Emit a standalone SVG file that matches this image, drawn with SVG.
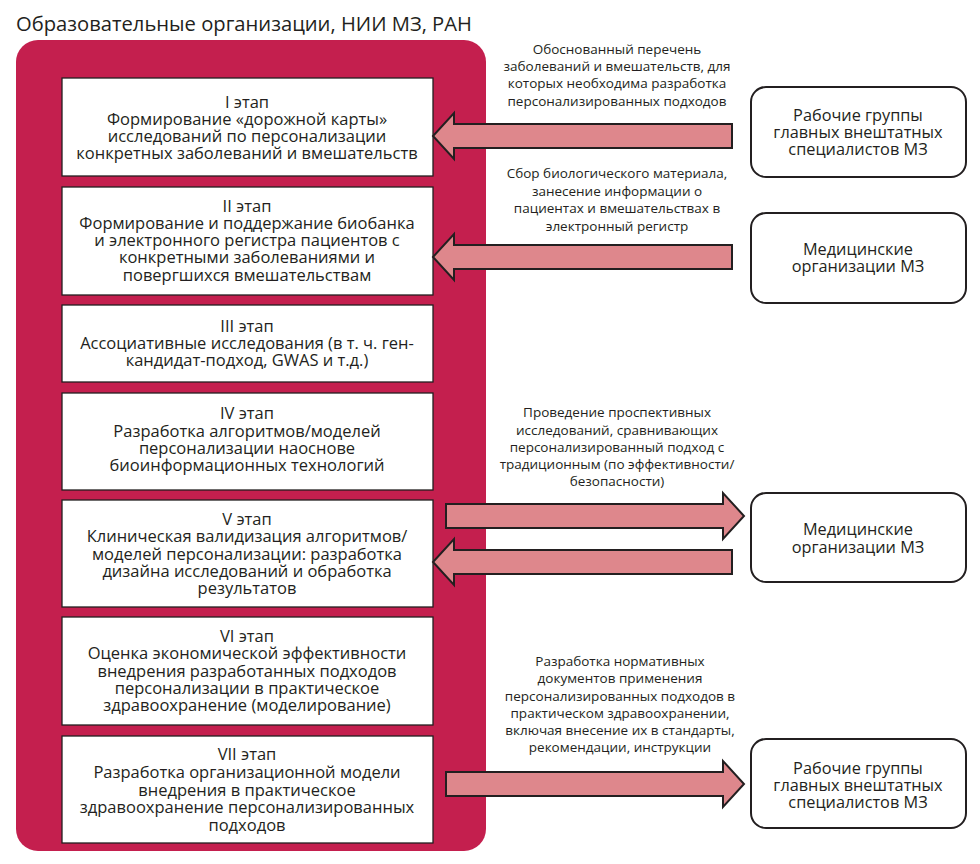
<svg xmlns="http://www.w3.org/2000/svg" width="980" height="864" viewBox="0 0 980 864">
<style>
.t{font-family:"Open Sans","Liberation Sans",Arial,sans-serif;fill:#231f20;text-anchor:middle}
.title{font-family:"Open Sans","Liberation Sans",Arial,sans-serif;fill:#231f20;font-size:20.2px}
.st{font-size:16.5px}
.lb{font-size:13.5px}
.rb{font-size:16.3px}
.stage{fill:#fff;stroke:#231f20;stroke-width:1.3}
.org{fill:#fff;stroke:#231f20;stroke-width:2}
.arr{fill:#de878c;stroke:#231f20;stroke-width:2;stroke-linejoin:miter}
</style>
<rect width="980" height="864" fill="#fff"/>
<text class="title" x="16" y="31">Образовательные организации, НИИ МЗ, РАН</text>
<rect id="container" x="16" y="40" width="470" height="811" rx="22" fill="#c41f4e"/>

<g id="stage1"><rect class="stage" x="62" y="78" width="371" height="98"/>
<text class="t st"><tspan x="247" y="108">I этап</tspan><tspan x="247" y="125">Формирование «дорожной карты»</tspan><tspan x="247" y="142">исследований по персонализации</tspan><tspan x="247" y="159">конкретных заболеваний и вмешательств</tspan></text></g>

<g id="stage2"><rect class="stage" x="62" y="187" width="371" height="108"/>
<text class="t st"><tspan x="247" y="212">II этап</tspan><tspan x="247" y="229">Формирование и поддержание биобанка</tspan><tspan x="247" y="246">и электронного регистра пациентов с</tspan><tspan x="247" y="263">конкретными заболеваниями и</tspan><tspan x="247" y="281">повергшихся вмешательствам</tspan></text></g>

<g id="stage3"><rect class="stage" x="62" y="305" width="371" height="77"/>
<text class="t st"><tspan x="247" y="332">III этап</tspan><tspan x="247" y="349">Ассоциативные исследования (в т. ч. ген-</tspan><tspan x="247" y="366">кандидат-подход, GWAS и т.д.)</tspan></text></g>

<g id="stage4"><rect class="stage" x="62" y="393" width="371" height="97"/>
<text class="t st"><tspan x="247" y="419">IV этап</tspan><tspan x="247" y="437">Разработка алгоритмов/моделей</tspan><tspan x="247" y="454">персонализации наоснове</tspan><tspan x="247" y="471">биоинформационных технологий</tspan></text></g>

<g id="stage5"><rect class="stage" x="62" y="500" width="371" height="107"/>
<text class="t st"><tspan x="247" y="525">V этап</tspan><tspan x="247" y="542">Клиническая валидизация алгоритмов/</tspan><tspan x="247" y="560">моделей персонализации: разработка</tspan><tspan x="247" y="577">дизайна исследований и обработка</tspan><tspan x="247" y="594">результатов</tspan></text></g>

<g id="stage6"><rect class="stage" x="62" y="617" width="371" height="108"/>
<text class="t st"><tspan x="247" y="642">VI этап</tspan><tspan x="247" y="659">Оценка экономической эффективности</tspan><tspan x="247" y="677">внедрения разработанных подходов</tspan><tspan x="247" y="694">персонализации в практическое</tspan><tspan x="247" y="711">здравоохранение (моделирование)</tspan></text></g>

<g id="stage7"><rect class="stage" x="62" y="736" width="371" height="107"/>
<text class="t st"><tspan x="247" y="760">VII этап</tspan><tspan x="247" y="778">Разработка организационной модели</tspan><tspan x="247" y="796">внедрения в практическое</tspan><tspan x="247" y="813">здравоохранение персонализированных</tspan><tspan x="247" y="831">подходов</tspan></text></g>

<g id="org1"><rect class="org" x="751" y="87" width="215" height="90" rx="15"/>
<text class="t rb"><tspan x="858" y="121">Рабочие группы</tspan><tspan x="858" y="138">главных внештатных</tspan><tspan x="858" y="155">специалистов МЗ</tspan></text></g>

<g id="org2"><rect class="org" x="751" y="213" width="215" height="90" rx="15"/>
<text class="t rb"><tspan x="858" y="255">Медицинские</tspan><tspan x="858" y="272">организации МЗ</tspan></text></g>

<g id="org3"><rect class="org" x="751" y="493" width="215" height="89" rx="15"/>
<text class="t rb"><tspan x="858" y="535">Медицинские</tspan><tspan x="858" y="553">организации МЗ</tspan></text></g>

<g id="org4"><rect class="org" x="751" y="739" width="215" height="89" rx="15"/>
<text class="t rb"><tspan x="858" y="774">Рабочие группы</tspan><tspan x="858" y="791">главных внештатных</tspan><tspan x="858" y="808">специалистов МЗ</tspan></text></g>

<g id="connectors">
<polygon class="arr" points="732,124 454,124 454,113 433,136 454,159 454,148 732,148"/>
<polygon class="arr" points="732,245 454,245 454,234 433,257 454,280 454,269 732,269"/>
<polygon class="arr" points="446,504 723,504 723,493 744,516 723,539 723,528 446,528"/>
<polygon class="arr" points="732,550 454,550 454,539 433,562 454,585 454,574 732,574"/>
<polygon class="arr" points="446,772 723,772 723,761 744,784 723,807 723,796 446,796"/>
<text class="t lb"><tspan x="617" y="54">Обоснованный перечень</tspan><tspan x="617" y="71">заболеваний и вмешательств, для</tspan><tspan x="617" y="88">которых необходима разработка</tspan><tspan x="617" y="106">персонализированных подходов</tspan></text>
<text class="t lb"><tspan x="617" y="178">Сбор биологического материала,</tspan><tspan x="617" y="196">занесение информации о</tspan><tspan x="617" y="213">пациентах и вмешательствах в</tspan><tspan x="617" y="231">электронный регистр</tspan></text>
<text class="t lb"><tspan x="617" y="417">Проведение проспективных</tspan><tspan x="617" y="435">исследований, сравнивающих</tspan><tspan x="617" y="452">персонализированный подход с</tspan><tspan x="617" y="469">традиционным (по эффективности/</tspan><tspan x="617" y="486">безопасности)</tspan></text>
<text class="t lb"><tspan x="620" y="666">Разработка нормативных</tspan><tspan x="620" y="683">документов применения</tspan><tspan x="620" y="701">персонализированных подходов в</tspan><tspan x="620" y="718">практическом здравоохранении,</tspan><tspan x="620" y="735">включая внесение их в стандарты,</tspan><tspan x="620" y="752">рекомендации, инструкции</tspan></text>
</g>
</svg>
